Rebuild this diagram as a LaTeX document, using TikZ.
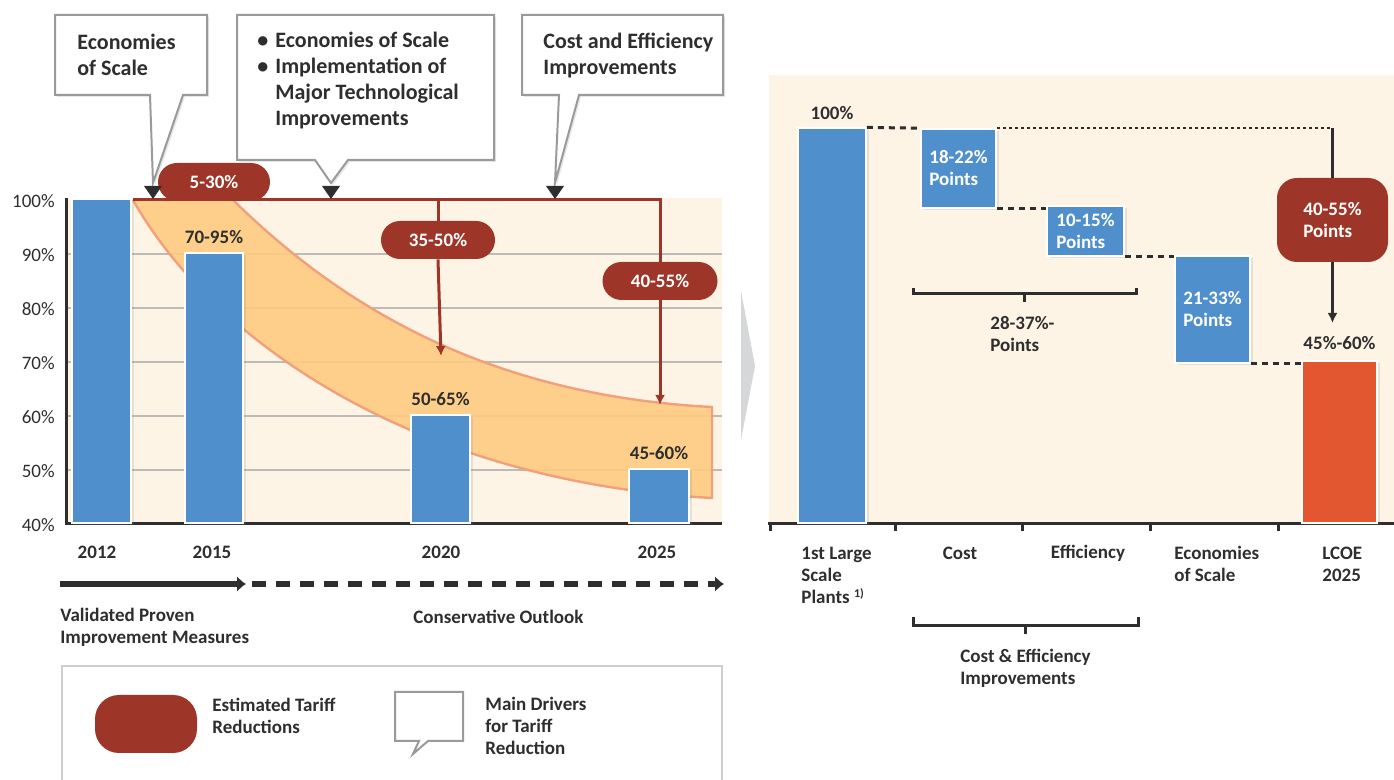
\documentclass[tikz,border=0pt]{standalone}
\usepackage{fontspec}
\setmainfont{Carlito}
\usetikzlibrary{positioning,shapes.misc,shadows,arrows.meta}

\definecolor{barblue}{HTML}{4F8FCB}
\definecolor{tariffred}{HTML}{9D3629}
\definecolor{lcoered}{HTML}{E2572F}
\definecolor{cream}{HTML}{FEF4E6}
\definecolor{bandfill}{HTML}{FDCB80}
\definecolor{bandline}{HTML}{F0A07A}
\definecolor{inkgray}{HTML}{2E2E2E}
\definecolor{gridgray}{HTML}{BDBBB8}
\definecolor{boxgray}{HTML}{9A9A9A}
\definecolor{chevrongray}{HTML}{D6D7D9}

\tikzset{
  >=latex,
  every node/.style={text=inkgray,font=\bfseries\fontsize{9.5}{11}\selectfont},
  axis/.style={draw=inkgray,line width=1.5pt},
  grid line/.style={draw=gridgray,line width=1pt},
  bar/.style={fill=barblue,draw=white,line width=0.8pt,inner sep=0pt,anchor=south,
    drop shadow={opacity=0.18,shadow xshift=1.5pt,shadow yshift=-1pt}},
  bar label/.style={inner sep=0pt},
  tariff/.style={rounded rectangle,fill=tariffred,text=white,inner sep=0pt,
    minimum width=56pt,minimum height=19pt},
  driver/.style={draw=boxgray,line width=1pt,fill=white,
    drop shadow={opacity=0.2,shadow xshift=1pt,shadow yshift=-1pt}},
  driver text/.style={font=\bfseries\fontsize{11}{13}\selectfont,align=left,anchor=west,inner sep=0pt},
  reduction/.style={draw=tariffred,line width=1.5pt,>={Latex[length=5pt,width=5pt]}},
  timeline/.style={draw=inkgray,line width=3pt,>={Latex[length=4.5pt,width=8pt]}},
  wf box/.style={fill=barblue,draw=white,line width=0.8pt,text=white,align=left,inner sep=0pt,
    drop shadow={opacity=0.18,shadow xshift=1.5pt,shadow yshift=-1pt}},
  step join/.style={draw=inkgray,line width=1.5pt,dash pattern=on 3pt off 2.5pt},
  dotted join/.style={draw=inkgray,line width=1pt,dash pattern=on 1.5pt off 1.5pt},
  total line/.style={draw=inkgray,line width=1.5pt,>={Latex[length=5pt,width=5pt]}},
  bracket/.style={draw=inkgray,line width=1.5pt}
}

\begin{document}
\begin{tikzpicture}[x=0.5pt,y=-0.5pt]
  \useasboundingbox (0,0) rectangle (1394,780);

  %% left chart: tariff path
  \fill[cream] (66,198) rectangle (722,524);
  \foreach \i in {1,...,5}
    \draw[grid line] (66,{200+54*\i}) -- (722,{200+54*\i});
  \foreach \p [count=\i from 0] in {100,90,80,70,60,50,40}
    \node[font=\fontsize{9.5}{11}\selectfont,anchor=east,inner sep=0pt] (tick\p) at (55,{201+54*\i}) {\p\%};

  % band of the expected reduction
  \filldraw[fill=bandfill,fill opacity=0.9,draw=bandline,line width=1.2pt]
    (233,200) .. controls (335,300) and (480,395) .. (712,407)
    -- (712,498)
    .. controls (420,482) and (215,345) .. (133,200);

  \draw[axis] (66,198) -- (66,524) -- (722,524);

  % bars
  \node[bar,minimum width=29.5pt,minimum height=162pt] (b2012) at (101.5,524) {};
  \node[bar,minimum width=29pt,minimum height=135pt] (b2015) at (214,524) {};
  \node[bar,minimum width=29.5pt,minimum height=54pt] (b2020) at (440.5,524) {};
  \node[bar,minimum width=30pt,minimum height=27pt] (b2025) at (659,524) {};
  \node[bar label,above=4pt of b2015] (l2015) {70-95\%};
  \node[bar label,above=4pt of b2020] (l2020) {50-65\%};
  \node[bar label,above=4pt of b2025] (l2025) {45-60\%};

  % estimated tariff reductions
  \node[tariff] (p530) at (214,182) {5-30\%};
  \node[tariff,minimum width=57pt] (p3550) at (438,240) {35-50\%};
  \node[tariff,minimum width=57.5pt] (p4055) at (660,281) {40-55\%};
  \coordinate (red start) at (133,200);
  \coordinate (red corner) at (660,200);
  \coordinate (tip2020) at (441,356);
  \coordinate (tip2025) at (660,405);
  \draw[reduction] (red start) -- (red corner) -- (p4055.north);
  \draw[reduction,->] (p4055.south) -- (tip2025);
  \draw[reduction] (p3550.north |- red corner) -- (p3550.north);
  \draw[reduction,->] (p3550.south) -- (tip2020);

  % main drivers
  \draw[driver] (55,15) -- (207,15) -- (207,95) -- (183,95) -- (153,183) -- (150,95) -- (55,95) -- cycle;
  \draw[driver] (237,15) -- (494,15) -- (494,160) -- (348,160) -- (331,183) -- (315,160) -- (237,160) -- cycle;
  \draw[driver] (522,15) -- (723,15) -- (723,95) -- (579,95) -- (555,183) -- (559,95) -- (522,95) -- cycle;
  \node[driver text] (d1) at (77,55) {Economies\\of Scale};
  \node[driver text] (d2) at (257,80.5) {\makebox[9pt][l]{\textbullet}Economies of Scale\\
    \makebox[9pt][l]{\textbullet}Implementation of\\\hspace*{9pt}Major Technological\\\hspace*{9pt}Improvements};
  \node[driver text] (d3) at (543,55) {Cost and Efficiency\\Improvements};
  \foreach \x in {153,331,555}
    \fill[inkgray] (\x-9,186) -- (\x+9,186) -- (\x,199) -- cycle;

  % years and timeline
  \node (y2012) at (97,552) {2012};
  \node (y2015) at (212,552) {2015};
  \node (y2020) at (441,552) {2020};
  \node (y2025) at (657,552) {2025};
  \coordinate (tl start) at (60,584);
  \coordinate (tl mid) at (246,584);
  \coordinate (tl dash) at (252,584);
  \coordinate (tl end) at (724,584);
  \draw[timeline,->] (tl start) -- (tl mid);
  \draw[timeline,->,dash pattern=on 7pt off 5pt] (tl dash) -- (tl end);
  \node[anchor=west,align=left,inner sep=0pt] (proven) at (60,627.5) {Validated Proven\\Improvement Measures};
  \node[anchor=west,inner sep=0pt] (outlook) at (413,617) {Conservative Outlook};

  % legend
  \draw[draw=gridgray!70,fill=white,line width=0.8pt,
    drop shadow={opacity=0.15,shadow xshift=0pt,shadow yshift=-1pt}] (62,666) rectangle (722,800);
  \node[fill=tariffred,rounded corners=12pt,inner sep=0pt,minimum width=51pt,minimum height=29pt] (legend tariff) at (146,724) {};
  \node[anchor=west,align=left,inner sep=0pt] (legend tariff text) at (212,716) {Estimated Tariff\\Reductions};
  \draw[draw=boxgray,line width=1pt,fill=white]
    (395,692) -- (463,692) -- (463,741) -- (428,741) -- (413,754) -- (419,741) -- (395,741) -- cycle;
  \node[anchor=west,align=left,inner sep=0pt] (legend driver text) at (485,725.5) {Main Drivers\\for Tariff\\Reduction};

  % chevron between the panels
  \fill[chevrongray] (741,291) -- (755,366) -- (741,440) -- cycle;

  %% right chart: waterfall
  \fill[cream] (769,75) rectangle (1394,524);
  \draw[axis] (768,524) -- (1394,524);
  \foreach \x in {770,895,1022,1150,1278}
    \draw[axis] (\x,524) -- (\x,531);

  \node[bar,minimum width=34pt,minimum height=197.5pt] (plants) at (832,524) {};
  \node[bar,fill=lcoered,minimum width=37.5pt,minimum height=81pt] (lcoe) at (1339.5,524) {};
  \node[bar label,above=3.5pt of plants] (lplants) {100\%};
  \node[bar label,above=5pt of lcoe] (llcoe) {45\%-60\%};

  \node[wf box,minimum width=37.5pt,minimum height=39.5pt] (cost) at (958.5,168.5) {18-22\%\\Points};
  \node[wf box,minimum width=38.5pt,minimum height=25pt] (eff) at (1085.5,231) {10-15\%\\Points};
  \node[wf box,minimum width=37.5pt,minimum height=53.5pt] (econ) at (1212.5,309.5) {21-33\%\\Points};
  \node[fill=tariffred,rounded corners=10pt,text=white,align=left,inner sep=0pt,
    minimum width=55.5pt,minimum height=42pt] (total) at (1332.5,220) {40-55\%\\Points};

  \draw[step join] (plants.north east) -- (cost.north west);
  \draw[step join] (cost.south east) -- (cost.south east -| eff.west);
  \draw[step join] (eff.south east) -- (eff.south east -| econ.west);
  \draw[step join] (econ.south east) -- (econ.south east -| lcoe.west);
  \draw[dotted join] (cost.north east) -- (cost.north east -| total.north) coordinate (total corner);
  \draw[total line] (total corner) -- (total.north);
  \coordinate (total tip) at (1332.5,323);
  \draw[total line,->] (total.south) -- (total tip);

  % brackets
  \draw[bracket] (913,288) -- (913,294) -- (1136,294) -- (1136,288) (1024,294) -- (1024,302);
  \node[anchor=west,align=left,inner sep=0pt] (points sum) at (990,334) {28-37\%-\\Points};
  \draw[bracket] (913,617) -- (913,626) -- (1138,626) -- (1138,617) (1025,626) -- (1025,634);
  \node[anchor=west,align=left,inner sep=0pt] (ce sum) at (960,668) {Cost \& Efficiency\\Improvements};

  % categories
  \node[anchor=west,align=left,inner sep=0pt] (c plants) at (801,575)
    {1st Large\\Scale\\Plants {\fontsize{6}{6}\selectfont\raisebox{3pt}{1)}}};
  \node (c cost) at (960,553) {Cost};
  \node (c eff) at (1088,553) {Efficiency};
  \node[anchor=west,align=left,inner sep=0pt] (c econ) at (1174,564) {Economies\\of Scale};
  \node[anchor=west,align=left,inner sep=0pt] (c lcoe) at (1322,564) {LCOE\\2025};
\end{tikzpicture}
\end{document}
